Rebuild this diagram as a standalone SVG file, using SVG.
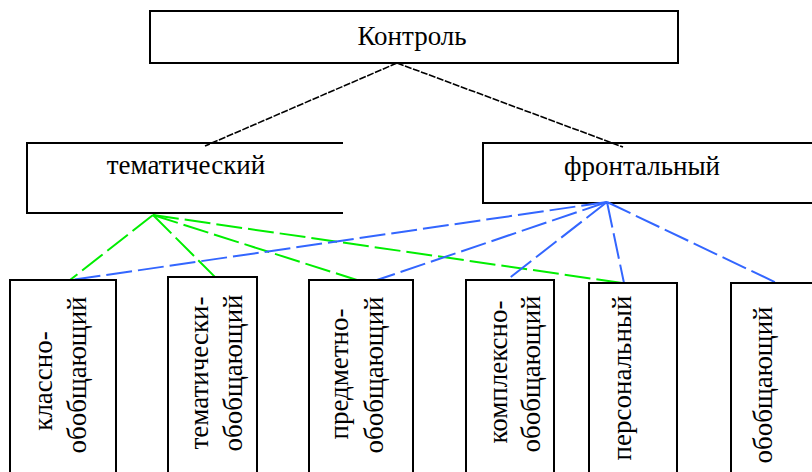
<svg xmlns="http://www.w3.org/2000/svg" width="812" height="472" viewBox="0 0 812 472">
<style>
.box{fill:#fff;stroke:#000;stroke-width:2}
text{font-size:27px;fill:#000;text-anchor:middle}
.k{stroke:#000;stroke-width:1.6;fill:none;stroke-dasharray:7 1.5}
.g{stroke:#00ee00;stroke-width:2;fill:none;stroke-dasharray:26 6}
.b{stroke:#3366ff;stroke-width:2;fill:none;stroke-dasharray:26 6}
</style>
<rect width="812" height="472" fill="#fff"/>
<g font-family="Liberation Serif, Times New Roman, serif">
<g id="nodes-top">
<g id="kontrol"><rect class="box" x="150" y="11" width="528" height="52"/><text x="412" y="45">Контроль</text></g>
<g id="tematicheskiy"><path class="box" d="M343,143 H27 V213 H343"/><text x="186" y="174">тематический</text></g>
<g id="frontalny"><rect class="box" x="483" y="143" width="340" height="60"/><text x="642" y="175">фронтальный</text></g>
</g>
<g id="connectors">
<path class="k" d="M397,63 L205,146"/>
<path class="k" d="M397,63 L623,147"/>
<path class="g" d="M153,215 L70,280"/>
<path class="g" d="M153,215 L219,281"/>
<path class="g" d="M153,215 L360,281"/>
<path class="g" d="M153,215 L622,283"/>
<path class="b" d="M607,202 L65,281"/>
<path class="b" d="M607,202 L377,280"/>
<path class="b" d="M607,202 L503,283"/>
<path class="b" d="M607,202 L624,283"/>
<path class="b" d="M607,202 L783,286"/>
</g>
<g id="box1"><rect class="box" x="10" y="280" width="106" height="210"/>
<text transform="translate(52,381) rotate(-90)">классно-</text>
<text transform="translate(86,375) rotate(-90)">обобщающий</text></g>
<g id="box2"><rect class="box" x="168" y="277" width="89" height="210"/>
<text transform="translate(208,373) rotate(-90)">тематически-</text>
<text transform="translate(242,373) rotate(-90)">обобщающий</text></g>
<g id="box3"><rect class="box" x="309" y="280" width="104" height="210"/>
<text transform="translate(348,374) rotate(-90)">предметно-</text>
<text transform="translate(383,375) rotate(-90)">обобщающий</text></g>
<g id="box4"><rect class="box" x="466" y="280" width="88" height="210"/>
<text transform="translate(507,372) rotate(-90)">комплексно-</text>
<text transform="translate(540,374) rotate(-90)">обобщающий</text></g>
<g id="box5"><rect class="box" x="589" y="283" width="88" height="210"/>
<text transform="translate(631,378) rotate(-90)">персональный</text></g>
<g id="box6"><rect class="box" x="731" y="283" width="100" height="210"/>
<text transform="translate(772,385) rotate(-90)">обобщающий</text></g>
</g>
</svg>
